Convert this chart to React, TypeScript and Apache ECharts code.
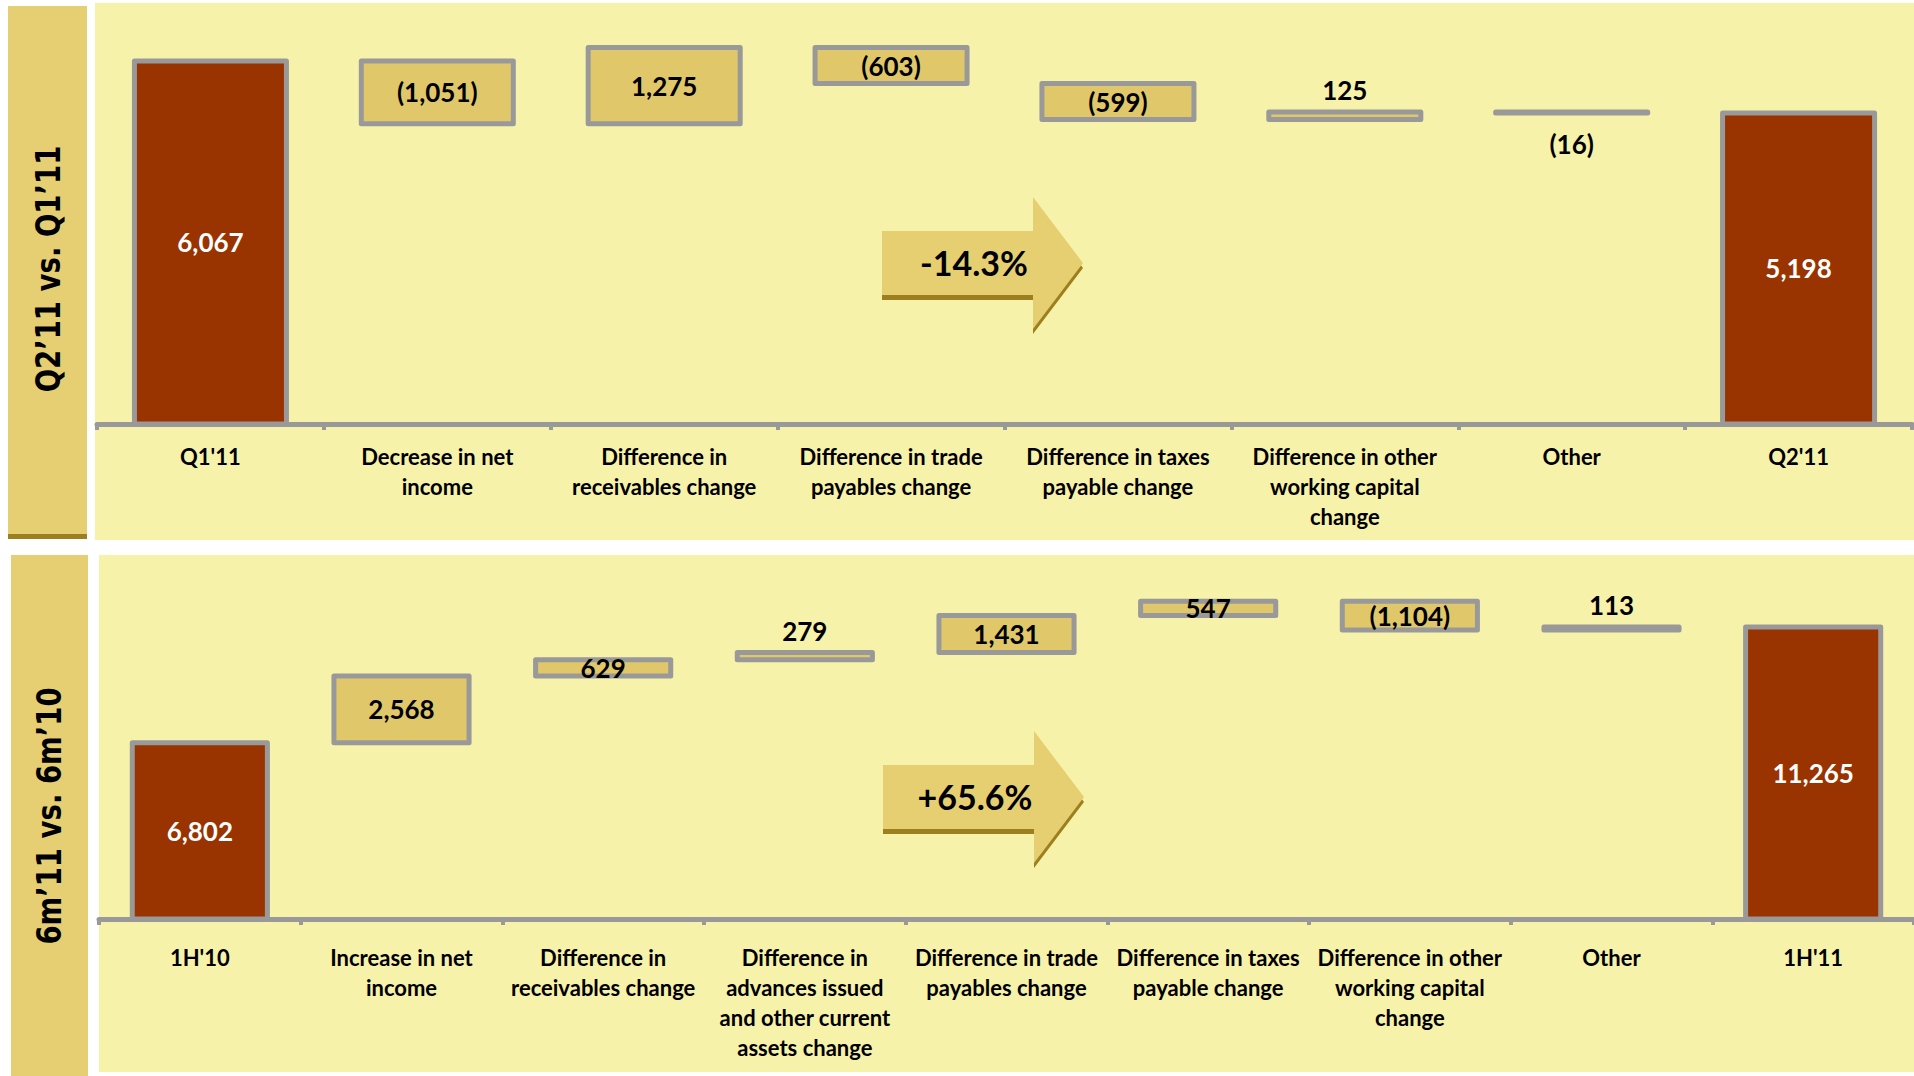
import React, { useEffect, useRef } from "react";
import * as echarts from "echarts";

// ---------- DATA ----------
const topCategories = [
  "Q1'11",
  "Decrease in net\nincome",
  "Difference in\nreceivables change",
  "Difference in trade\npayables change",
  "Difference in taxes\npayable change",
  "Difference in other\nworking capital\nchange",
  "Other",
  "Q2'11",
];
const topStart = 6067;
const topDeltas = [-1051, 1275, -603, -599, 125, -16];
const topEnd = 5198;
const topChange = "-14.3%";
const topPanelTitle = "Q2’11 vs. Q1’11";

const bottomCategories = [
  "1H'10",
  "Increase in net\nincome",
  "Difference in\nreceivables change",
  "Difference in\nadvances issued\nand other current\nassets change",
  "Difference in trade\npayables change",
  "Difference in taxes\npayable change",
  "Difference in other\nworking capital\nchange",
  "Other",
  "1H'11",
];
const bottomStart = 6802;
const bottomDeltas = [2568, 629, 279, 1431, 547, -1104, 113];
const bottomEnd = 11265;
const bottomChange = "+65.6%";
const bottomPanelTitle = "6m’11 vs. 6m’10";

// label placement (style, separate from data)
const topLabelPos = ["inside", "inside", "inside", "inside", "inside", "top", "bottom", "inside"];
const bottomLabelPos = ["inside", "inside", "inside", "top", "inside", "inside", "inside", "top", "inside"];

// ---------- STYLE ----------
const RED = "#993300";
const GOLD = "#E0C86A";
const GREY = "#999999";
const BG = "#F7F2AA";
const COL = "#E5CF72";
const DARK = "#9C7F1F";
const ARROW = "#E6CF70";
const FONT = "Lato, 'Open Sans', sans-serif";
const BAR_RATIO = 0.67;

const fmt = (v: number) => {
  const s = Math.abs(v).toLocaleString("en-US");
  return v < 0 ? `(${s})` : s;
};

function buildWaterfall(
  start: number,
  deltas: number[],
  end: number,
  labelPos: string[],
  idx: number
) {
  // rows: [categoryIndex, low, high]
  const rows: number[][] = [[0, 0, start]];
  const shown: number[] = [start];
  let cum = start;
  deltas.forEach((d, k) => {
    const n = cum + d;
    rows.push([k + 1, Math.min(cum, n), Math.max(cum, n)]);
    shown.push(d);
    cum = n;
  });
  rows.push([rows.length, 0, end]);
  shown.push(end);
  const last = rows.length - 1;

  return {
    type: "custom",
    xAxisIndex: idx,
    yAxisIndex: idx,
    encode: { x: 0, y: [1, 2] },
    data: rows,
    renderItem: (params: any, api: any) => {
      const i = params.dataIndex;
      const cat = api.value(0);
      const lo = api.value(1);
      const hi = api.value(2);
      const pLo = api.coord([cat, lo]);
      const pHi = api.coord([cat, hi]);
      const w = api.size([1, 0])[0] * BAR_RATIO;
      const x = pLo[0] - w / 2;
      const yTop = pHi[1];
      const h = Math.max(pLo[1] - pHi[1], 0.5);
      const total = i === 0 || i === last;
      const pos = labelPos[i];
      let ty = yTop + h / 2;
      let va = "middle";
      if (pos === "top") {
        ty = yTop - 9;
        va = "bottom";
      } else if (pos === "bottom") {
        ty = yTop + h + 18;
        va = "top";
      }
      return {
        type: "group",
        children: [
          {
            type: "rect",
            shape: { x, y: yTop, width: w, height: h },
            style: {
              fill: total ? RED : GOLD,
              stroke: GREY,
              lineWidth: 5,
              lineJoin: "round",
            },
          },
          {
            type: "text",
            x: pLo[0],
            y: ty,
            style: {
              text: fmt(shown[i]),
              fill: total ? "#ffffff" : "#000000",
              font: `bold 26px ${FONT}`,
              align: "center",
              verticalAlign: va,
            },
          },
        ],
      };
    },
  };
}

function arrow(x0: number, yc: number, text: string) {
  const bodyLen = 151;
  const headLen = 50;
  const bh = 32;
  const hh = 66;
  const pts = (dy: number) => [
    [x0, yc - bh + dy],
    [x0 + bodyLen, yc - bh + dy],
    [x0 + bodyLen, yc - hh + dy],
    [x0 + bodyLen + headLen, yc + dy],
    [x0 + bodyLen, yc + hh + dy],
    [x0 + bodyLen, yc + bh + dy],
    [x0, yc + bh + dy],
  ];
  return [
    { type: "polygon", z: 5, shape: { points: pts(5) }, style: { fill: DARK } },
    { type: "polygon", z: 6, shape: { points: pts(0) }, style: { fill: ARROW } },
    {
      type: "text",
      z: 7,
      x: x0 + 92,
      y: yc - 1,
      style: {
        text,
        fill: "#000",
        font: `bold 34px ${FONT}`,
        align: "center",
        verticalAlign: "middle",
      },
    },
  ];
}

const axisLabelStyle = (margin: number) => ({
  interval: 0,
  margin,
  color: "#000",
  fontFamily: FONT,
  fontWeight: "bold",
  fontSize: 22,
  lineHeight: 30,
  align: "center",
});

export default function App() {
  const ref = useRef<HTMLDivElement>(null);
  useEffect(() => {
    if (!ref.current) return;
    const chart = echarts.init(ref.current, undefined, { renderer: "svg" });
    const option: any = {
      animation: false,
      grid: [
        { left: 97, right: 2, top: 35, height: 389 },
        { left: 99, right: 0, top: 582, height: 337 },
      ],
      xAxis: [
        {
          type: "category",
          gridIndex: 0,
          data: topCategories,
          axisLine: { lineStyle: { color: GREY, width: 5 } },
          axisTick: { show: true, length: 6, lineStyle: { color: GREY, width: 4 } },
          axisLabel: axisLabelStyle(17),
        },
        {
          type: "category",
          gridIndex: 1,
          data: bottomCategories,
          axisLine: { lineStyle: { color: GREY, width: 5 } },
          axisTick: { show: true, length: 6, lineStyle: { color: GREY, width: 4 } },
          axisLabel: axisLabelStyle(23),
        },
      ],
      yAxis: [
        { type: "value", gridIndex: 0, min: 0, max: 6500, show: false, splitLine: { show: false } },
        { type: "value", gridIndex: 1, min: 0, max: 13000, show: false, splitLine: { show: false } },
      ],
      series: [
        buildWaterfall(topStart, topDeltas, topEnd, topLabelPos, 0),
        buildWaterfall(bottomStart, bottomDeltas, bottomEnd, bottomLabelPos, 1),
      ],
      graphic: [
        // panel backgrounds
        { type: "rect", z: -10, shape: { x: 95, y: 3, width: 1819, height: 537 }, style: { fill: BG } },
        { type: "rect", z: -10, shape: { x: 99, y: 555, width: 1815, height: 517 }, style: { fill: BG } },
        // label columns
        { type: "rect", z: -10, shape: { x: 8, y: 6, width: 79, height: 533 }, style: { fill: COL } },
        { type: "rect", z: -9, shape: { x: 8, y: 534, width: 79, height: 5 }, style: { fill: DARK } },
        { type: "rect", z: -10, shape: { x: 11, y: 555, width: 77, height: 521 }, style: { fill: COL } },
        {
          type: "text",
          z: 5,
          x: 48,
          y: 269,
          rotation: Math.PI / 2,
          scaleX: 0.81,
          style: {
            text: topPanelTitle,
            fill: "#000",
            font: "bold 34px 'DejaVu Sans', sans-serif",
            align: "center",
            verticalAlign: "middle",
          },
        },
        {
          type: "text",
          z: 5,
          x: 49,
          y: 816,
          rotation: Math.PI / 2,
          scaleX: 0.81,
          style: {
            text: bottomPanelTitle,
            fill: "#000",
            font: "bold 34px 'DejaVu Sans', sans-serif",
            align: "center",
            verticalAlign: "middle",
          },
        },
        ...arrow(882, 263, topChange),
        ...arrow(883, 797, bottomChange),
      ],
    };
    chart.setOption(option);
    return () => chart.dispose();
  }, []);
  return (
    <div
      ref={ref}
      style={{ position: "fixed", left: 0, top: 0, width: 1914, height: 1076, background: "#ffffff" }}
    />
  );
}
